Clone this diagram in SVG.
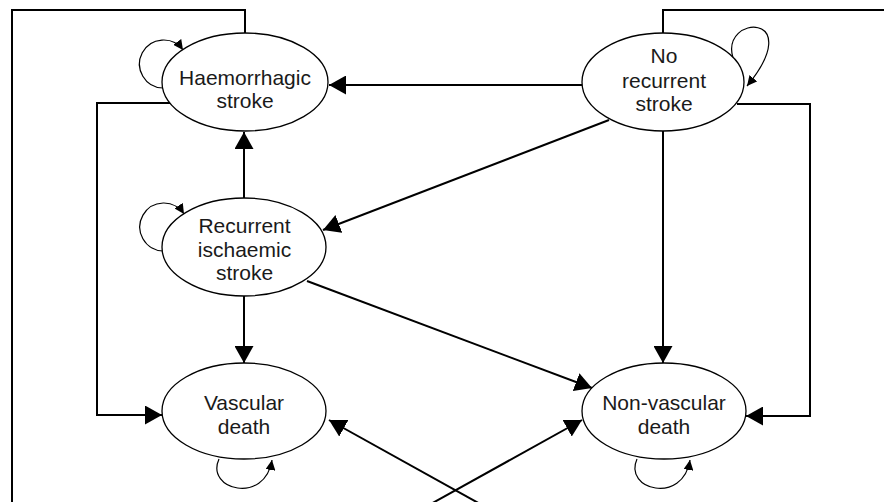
<svg xmlns="http://www.w3.org/2000/svg" width="884" height="502" viewBox="0 0 884 502">
<style>
.node ellipse{fill:#fff;stroke:#000;stroke-width:1.3}
.node text{font-family:"Liberation Sans",Arial,Helvetica,sans-serif;font-size:21px;fill:#1a1a1a;text-anchor:middle}
.edge{fill:none;stroke:#000;stroke-width:2}
.loop{fill:none;stroke:#000;stroke-width:1.2}
</style>
<defs>
<marker id="ah" markerUnits="userSpaceOnUse" markerWidth="18" markerHeight="19" refX="17" refY="9.5" orient="auto">
<path d="M0,0 L17,9.5 L0,19 z" fill="#000"/>
</marker>
<marker id="sh" markerUnits="userSpaceOnUse" markerWidth="11" markerHeight="10" refX="10" refY="5" orient="auto">
<path d="M0,0 L10,5 L0,10 z" fill="#000"/>
</marker>
</defs>
<rect width="884" height="502" fill="#fff"/>
<g id="connectors">
<path class="edge" d="M245,33 V10 H12 V510"/>
<path class="edge" d="M663,33 V10 H890"/>
<path class="edge" d="M170,103 H97 V415 H162" marker-end="url(#ah)"/>
<path class="edge" d="M737,104 H810 V416 H746" marker-end="url(#ah)"/>
<path class="edge" d="M582,85 H329" marker-end="url(#ah)"/>
<path class="edge" d="M609,120 L323,230" marker-end="url(#ah)"/>
<path class="edge" d="M244,198 V132" marker-end="url(#ah)"/>
<path class="edge" d="M244,296 V363" marker-end="url(#ah)"/>
<path class="edge" d="M307,281 L592,388" marker-end="url(#ah)"/>
<path class="edge" d="M663,131 V363" marker-end="url(#ah)"/>
<path class="edge" d="M491,510 L329,420" marker-end="url(#ah)"/>
<path class="edge" d="M420,510 L582,420" marker-end="url(#ah)"/>
<path class="loop" d="M163,88 A24,24 0 1 1 183,50" marker-end="url(#sh)"/>
<path class="loop" d="M163,251 A24,24 0 1 1 184,214" marker-end="url(#sh)"/>
<path class="loop" d="M733,58 C720,14 808,12 747,86" marker-end="url(#sh)"/>
<path class="loop" d="M219,459 C205,490 265,505 272,460" marker-end="url(#sh)"/>
<path class="loop" d="M637,459 C623,490 683,505 690,460" marker-end="url(#sh)"/>
</g>
<g id="haemorrhagic" class="node">
<ellipse cx="245" cy="82" rx="83" ry="49"/>
<text x="245" y="85">Haemorrhagic</text>
<text x="245" y="108">stroke</text>
</g>
<g id="no-recurrent" class="node">
<ellipse cx="663" cy="82" rx="81" ry="49"/>
<text x="664" y="63">No</text>
<text x="664" y="87.5">recurrent</text>
<text x="664" y="111">stroke</text>
</g>
<g id="recurrent-ischaemic" class="node">
<ellipse cx="244" cy="247" rx="82" ry="49"/>
<text x="244.5" y="232.5">Recurrent</text>
<text x="244.5" y="256.5">ischaemic</text>
<text x="244.5" y="280">stroke</text>
</g>
<g id="vascular-death" class="node">
<ellipse cx="244" cy="411" rx="82" ry="48"/>
<text x="244" y="410">Vascular</text>
<text x="244" y="434">death</text>
</g>
<g id="non-vascular-death" class="node">
<ellipse cx="664" cy="411" rx="82" ry="48"/>
<text x="664" y="410">Non-vascular</text>
<text x="664" y="434">death</text>
</g>
</svg>
